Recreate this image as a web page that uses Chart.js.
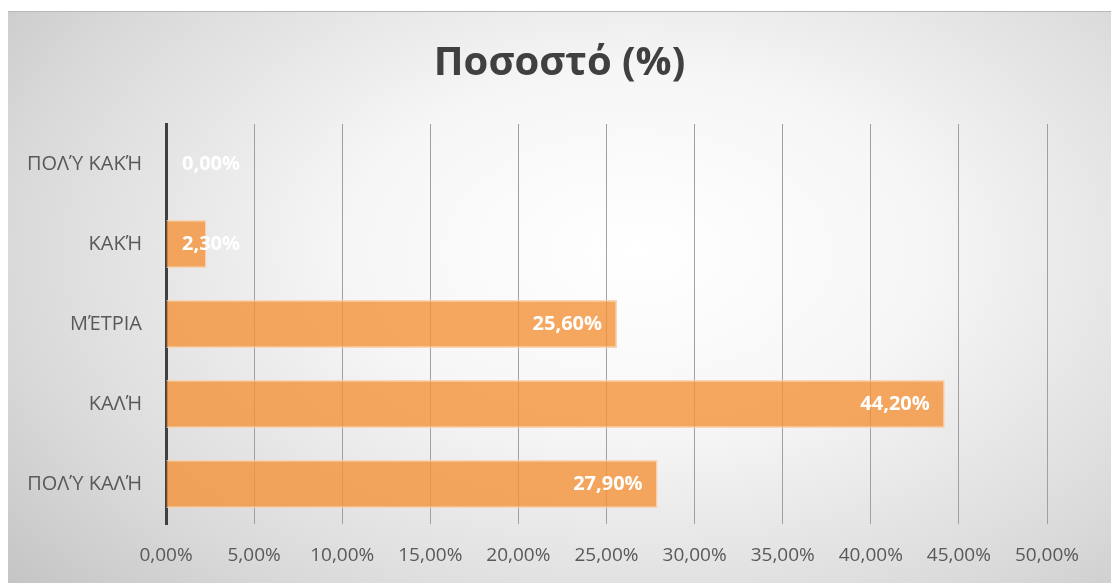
<!DOCTYPE html>
<html>
<head>
<meta charset="utf-8">
<script src="https://cdn.jsdelivr.net/npm/chart.js@4.4.1/dist/chart.umd.min.js"></script>
<style>
  html, body { margin: 0; padding: 0; background: #ffffff; }
  #box {
    position: absolute; left: 8px; top: 11px; width: 1103px; height: 572px;
    border-top: 1px solid #b8b8b8;
    background: radial-gradient(ellipse 75% 90% at 57% 42%, #ffffff 0%, #f6f6f6 35%, #dadada 75%, #c4c4c4 100%);
  }
  canvas { display: block; }
</style>
</head>
<body>
<div id="box"><canvas id="myChart" width="1103" height="572"></canvas></div>
<script>
//! data
const categories = ["ΠΟΛΎ ΚΑΚΉ", "ΚΑΚΉ", "ΜΈΤΡΙΑ", "ΚΑΛΉ", "ΠΟΛΎ ΚΑΛΉ"];
const percentValues = [0, 2.3, 25.6, 44.2, 27.9];
const xTicks = [0, 5, 10, 15, 20, 25, 30, 35, 40, 45, 50];

const fmt = v => v.toFixed(2).replace(".", ",") + "%";

//! white labels at the inside end of each bar
const barLabels = {
  id: "barLabels",
  afterDatasetsDraw(chart) {
    const ctx = chart.ctx;
    const meta = chart.getDatasetMeta(0);
    const x0 = chart.scales.x.getPixelForValue(0);
    ctx.save();
    ctx.font = "bold 20px 'Open Sans'";
    ctx.fillStyle = "#ffffff";
    ctx.textBaseline = "middle";
    ctx.textAlign = "right";
    meta.data.forEach((bar, i) => {
      const txt = fmt(percentValues[i]);
      const w = ctx.measureText(txt).width;
      const right = Math.max(bar.x - 15, x0 + 16 + w);
      ctx.fillText(txt, right, bar.y);
    });
    ctx.restore();
  }
};

const ctx = document.getElementById("myChart");
const myChart = new Chart(ctx, {
  type: "bar",
  data: {
    labels: categories,
    datasets: [{
      data: percentValues,
      backgroundColor: "rgba(244,146,58,0.8)",
      borderColor: "rgba(250,208,170,0.9)",
      borderWidth: 1.5,
      categoryPercentage: 0.6,
      barPercentage: 1
    }]
  },
  plugins: [barLabels],
  options: {
    indexAxis: "y",
    responsive: false,
    animation: false,
    layout: { padding: 0 },
    plugins: {
      legend: { display: false },
      tooltip: { enabled: false },
      title: {
        display: true,
        text: "Ποσοστό (%)",
        color: "#404040",
        font: { family: "'Open Sans'", size: 40, weight: "bold" },
        padding: { top: 28, bottom: 36 }
      }
    },
    scales: {
      x: {
        min: 0,
        max: 50,
        afterBuildTicks(axis) { axis.ticks = xTicks.map(v => ({ value: v })); },
        afterFit(axis) {
          axis.height = 60;
          axis.paddingRight = 64;
          axis.paddingLeft = 0;
        },
        grid: { color: "#a0a0a0", lineWidth: 1, drawTicks: false },
        border: { display: false },
        ticks: {
          padding: 20,
          color: "#595959",
          font: { family: "'Open Sans'", size: 19 },
          callback: v => fmt(v)
        }
      },
      y: {
        afterFit(axis) { axis.width = 158; },
        grid: { display: false, drawTicks: false },
        border: { display: true, color: "#404040", width: 3 },
        ticks: {
          padding: 24,
          color: "#595959",
          font: { family: "'Open Sans'", size: 20 }
        }
      }
    }
  }
});
</script>
</body>
</html>
